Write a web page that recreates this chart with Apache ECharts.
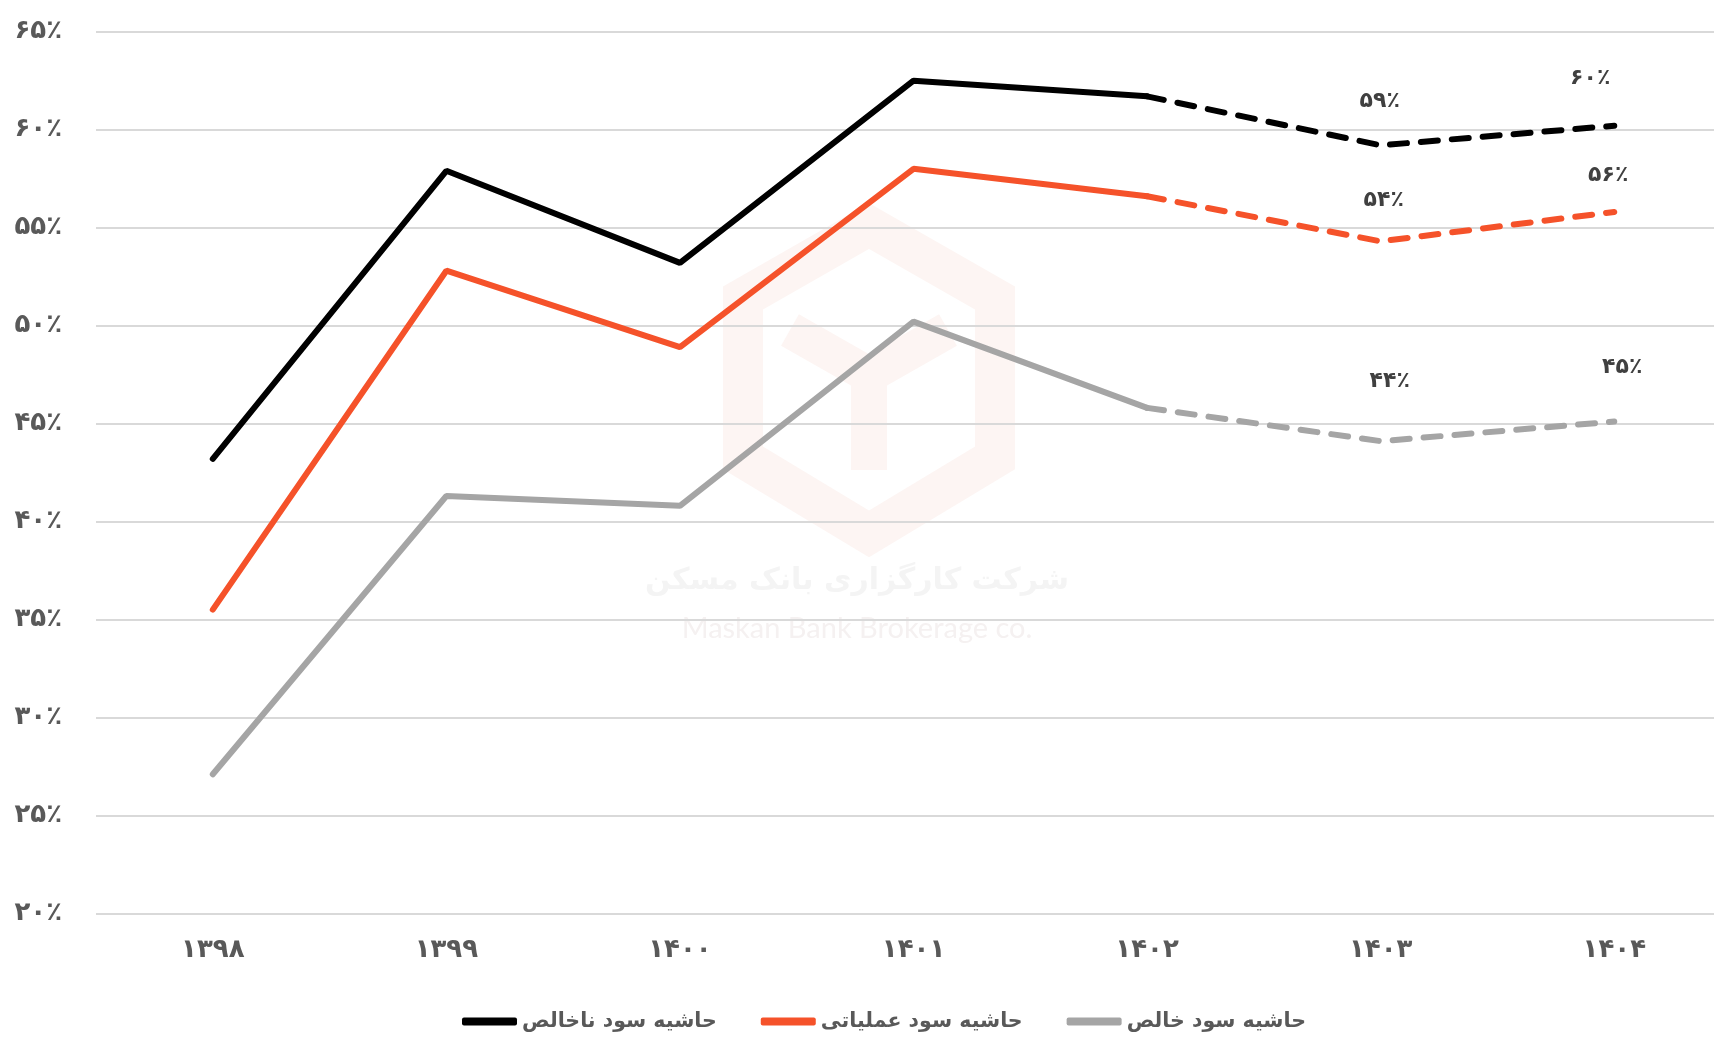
<!DOCTYPE html>
<html>
<head>
<meta charset="utf-8">
<title>حاشیه سود</title>
<script src="https://cdn.jsdelivr.net/npm/echarts@6/dist/echarts.min.js"></script>
<style>
  html, body { margin: 0; padding: 0; background: #fff; overflow: hidden; }
  #chart { width: 1714px; height: 1039px; }
</style>
</head>
<body>
<div id="chart"></div>
<script>
// سال‌ها (برچسب محور افقی)
const years = ['۱۳۹۸', '۱۳۹۹', '۱۴۰۰', '۱۴۰۱', '۱۴۰۲', '۱۴۰۳', '۱۴۰۴'];
// سری‌ها (درصد)
const grossMargin = [43.2, 57.9, 53.2, 62.5, 61.7, 59.2, 60.2];
const operatingMargin = [35.5, 52.8, 48.9, 58.0, 56.6, 54.3, 55.8];
const netMargin = [27.1, 41.3, 40.8, 50.2, 45.8, 44.1, 45.1];
const seriesNames = ['حاشیه سود ناخالص', 'حاشیه سود عملیاتی', 'حاشیه سود خالص'];
// از ۱۴۰۲ به بعد پیش‌بینی (خط‌چین)
const forecastFrom = 4;
const labelledYears = [5, 6];
// محور عمودی
const yMin = 20, yMax = 65, yStep = 5;

const colors = ['#000000', '#f5522a', '#a5a5a5'];
const faFont = 'DejaVu Sans';

function fa(n) {
  return String(n).replace(/\d/g, d => '۰۱۲۳۴۵۶۷۸۹'[d]);
}

// جابجایی برچسب‌ها نسبت به نقطه (فقط ظاهر)
const labelOffsets = [
  [[-1, -44], [-24, -47]],
  [[3, -41], [-6, -37]],
  [[9, -60], [8, -54]]
];

const chart = echarts.init(document.getElementById('chart'));
const all = [grossMargin, operatingMargin, netMargin];
let series = [];

all.forEach((vals, k) => {
  // بخش واقعی
  series.push({
    name: seriesNames[k],
    type: 'line',
    data: vals.map((v, i) => i <= forecastFrom ? [i, v] : [i, null]),
    showSymbol: false,
    lineStyle: { color: colors[k], width: 6, cap: 'round' },
    itemStyle: { color: colors[k] },
    z: 8 - k
  });
  // بخش پیش‌بینی
  series.push({
    name: seriesNames[k] + ' (پیش‌بینی)',
    type: 'line',
    data: vals.map((v, i) => {
      if (i < forecastFrom) return [i, null];
      const j = labelledYears.indexOf(i);
      if (j < 0) return [i, v];
      return {
        value: [i, v],
        label: {
          show: true,
          position: 'inside',
          offset: labelOffsets[k][j],
          formatter: fa(Math.round(v)) + '٪',
          color: '#404040',
          fontFamily: faFont,
          fontSize: 22,
          fontWeight: 'bold'
        }
      };
    }),
    symbol: 'circle',
    symbolSize: 1,
    itemStyle: { color: 'rgba(0,0,0,0)' },
    lineStyle: { color: colors[k], width: 6, type: [17, 14], cap: 'round' },
    z: 8 - k
  });
});

let option = {
  animation: false,
  backgroundColor: '#ffffff',
  grid: { left: 96, right: 0, top: 31.7, bottom: 125.7 },
  // محور افقی: نیم‌باند در چپ، ناحیه رسم از لبه راست بیرون می‌زند
  xAxis: {
    type: 'value',
    min: -0.5,
    max: 6.427,
    axisLine: { show: false },
    axisTick: { show: false },
    splitLine: { show: false },
    axisLabel: {
      customValues: years.map((y, i) => i),
      formatter: v => years[Math.round(v)],
      margin: 24,
      color: '#595959',
      fontFamily: faFont,
      fontSize: 26,
      fontWeight: 'bold'
    }
  },
  yAxis: {
    type: 'value',
    min: yMin,
    max: yMax,
    interval: yStep,
    axisLine: { show: false },
    axisTick: { show: false },
    splitLine: { lineStyle: { color: '#d9d9d9', width: 2 } },
    axisLabel: {
      margin: 34,
      color: '#595959',
      fontFamily: faFont,
      fontSize: 26,
      fontWeight: 'bold',
      formatter: v => fa(v) + '٪'
    }
  },
  legend: {
    data: seriesNames,
    bottom: 2,
    left: 457,
    icon: 'roundRect',
    itemWidth: 55,
    itemHeight: 8,
    itemGap: 44,
    textStyle: {
      color: '#595959',
      fontFamily: faFont,
      fontSize: 20.5,
      fontWeight: 'bold'
    }
  },
  // واترمارک کم‌رنگ
  graphic: [
    {
      type: 'polygon', z: -10,
      shape: { points: [[869, 226], [995, 298], [995, 458], [869, 534], [743, 458], [743, 298]] },
      style: { stroke: '#fdf5f3', lineWidth: 40, fill: null, lineJoin: 'miter' }
    },
    {
      type: 'polyline', z: -10,
      shape: { points: [[790, 330], [869, 375], [948, 330]] },
      style: { stroke: '#fdf5f3', lineWidth: 36, fill: null }
    },
    {
      type: 'polyline', z: -10,
      shape: { points: [[869, 375], [869, 470]] },
      style: { stroke: '#fdf5f3', lineWidth: 36, fill: null }
    },
    {
      type: 'text', z: -10, left: 'center', top: 566,
      style: { text: 'شرکت کارگزاری بانک مسکن', fill: '#f4f4f4', font: 'bold 30px "DejaVu Sans"' }
    },
    {
      type: 'text', z: -10, left: 'center', top: 614,
      style: { text: 'Maskan Bank Brokerage co.', fill: '#f5f1f1', font: '29px "Lato"' }
    }
  ],
  series: series
};

chart.setOption(option);
</script>
</body>
</html>
